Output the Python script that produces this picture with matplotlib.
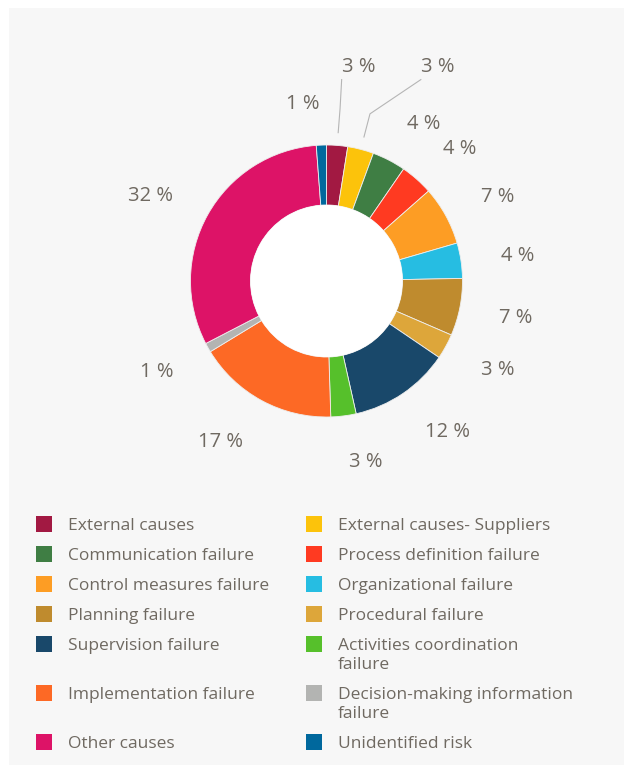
import matplotlib
matplotlib.use("Agg")
import matplotlib.pyplot as plt
from matplotlib.patches import Rectangle, Circle
import numpy as np

# ---------------- data ----------------
categories = ["External causes", "External causes- Suppliers", "Communication failure",
              "Process definition failure", "Control measures failure", "Organizational failure",
              "Planning failure", "Procedural failure", "Supervision failure",
              "Activities coordination failure", "Implementation failure",
              "Decision-making information failure", "Other causes", "Unidentified risk"]
values = [2.5, 3.1, 4.0, 3.9, 7.0, 4.2, 6.8, 3.0, 12.0, 3.0, 16.8, 1.1, 31.4, 1.2]
pct_labels = ["3 %", "3 %", "4 %", "4 %", "7 %", "4 %", "7 %", "3 %", "12 %", "3 %",
              "17 %", "1 %", "32 %", "1 %"]
legend_labels = ["External causes", "External causes- Suppliers", "Communication failure",
                 "Process definition failure", "Control measures failure", "Organizational failure",
                 "Planning failure", "Procedural failure", "Supervision failure",
                 "Activities coordination\nfailure", "Implementation failure",
                 "Decision-making information\nfailure", "Other causes", "Unidentified risk"]
colors = ["#a21942", "#fcc30b", "#3f7e44", "#ff3a21", "#fd9d24", "#26bde2", "#bf8b2e",
          "#dda63a", "#19486a", "#56c02b", "#fd6925", "#b3b4b2", "#dd1367", "#00689d"]

# ---------------- layout ----------------
W, H = 624, 774
FONT = ["Open Sans", "DejaVu Sans"]
TXT = "#6f6961"
BG = "#f7f7f7"

fig = plt.figure(figsize=(W / 100, H / 100), dpi=100, facecolor="white")
ax = fig.add_axes([0, 0, 1, 1])


def Y(y):
    return H - y


ax.add_patch(Rectangle((9, Y(765)), W - 9, 765 - 8, fc=BG, ec="none", zorder=0))

cx, cy = 326.5, Y(281)
R, R_IN = 136, 76

wedges, _ = ax.pie(values, colors=colors, startangle=90, counterclock=False,
                   radius=R, center=(cx, cy),
                   wedgeprops=dict(width=R - R_IN, edgecolor="#eeeeee", linewidth=0.6))
for w in wedges:
    w.set_zorder(2)
ax.add_patch(Circle((cx, cy), R_IN, fc="white", ec="none", zorder=3))

# labels
leader_targets = {0: (341.7, Y(79)), 1: (421.3, Y(79.3))}
RX, RY = 176, 180
for i, w in enumerate(wedges):
    th = np.deg2rad((w.theta1 + w.theta2) / 2)
    c, s = np.cos(th), np.sin(th)
    if i in leader_targets:
        p1 = (cx + 1.09 * R * c, cy + 1.09 * R * s)
        p2 = (cx + 1.27 * R * c, cy + 1.27 * R * s)
        tx, ty = leader_targets[i]
        ax.plot([p1[0], p2[0], tx], [p1[1], p2[1], ty], color="#b5b5b5", lw=0.8,
                zorder=4, solid_capstyle="butt")
        ax.text(tx, ty + 7, pct_labels[i], ha="left", va="baseline", fontsize=14.5,
                color=TXT, family=FONT, zorder=5)
        continue
    x, y = cx + RX * c, cy + RY * s
    ha = "left" if c > 0.05 else "right"
    ax.text(x, y, pct_labels[i], ha=ha, va="center_baseline", fontsize=14.5,
            color=TXT, family=FONT, zorder=5)

# legend
col_sq_x = [36, 306]
col_tx_x = [68.3, 337.7]
sq = 16
row_y = 524
line_h = 19
for r in range(0, len(legend_labels), 2):
    nlines = 1
    for k in range(2):
        idx = r + k
        if idx >= len(legend_labels):
            continue
        ax.add_patch(Rectangle((col_sq_x[k], Y(row_y) - sq / 2), sq, sq,
                               fc=colors[idx], ec="none", zorder=4))
        lines = legend_labels[idx].split("\n")
        nlines = max(nlines, len(lines))
        for j, ln in enumerate(lines):
            ax.text(col_tx_x[k], Y(row_y + 6.3 + j * line_h), ln, ha="left",
                    va="baseline", fontsize=12.5, color=TXT, family=FONT, zorder=5)
    row_y += 30 + line_h * (nlines - 1)

ax.set_xlim(0, W)
ax.set_ylim(0, H)
ax.set_aspect("equal")
ax.axis("off")

fig.savefig("out.png", dpi=100, facecolor="white")
